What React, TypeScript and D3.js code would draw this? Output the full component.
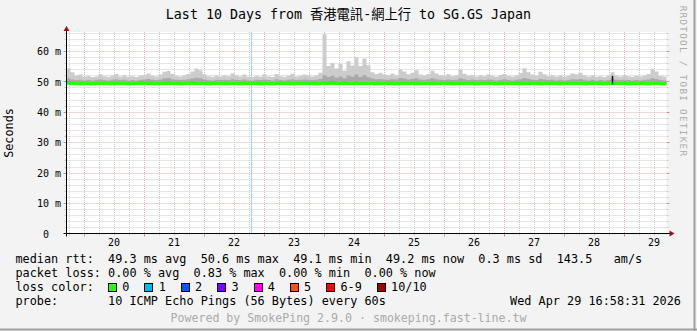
import React from 'react';
import * as d3 from 'd3';

const TITLE = 'Last 10 Days from 香港電訊-網上行 to SG.GS Japan';
const START = Date.UTC(2026, 3, 19, 16, 58, 31);
const END = Date.UTC(2026, 3, 29, 16, 58, 31);

const yTickValues = [0, 10, 20, 30, 40, 50, 60];
const yTickLabels = ['0  ', '10 m', '20 m', '30 m', '40 m', '50 m', '60 m'];
const dayLabels = ['20', '21', '22', '23', '24', '25', '26', '27', '28', '29'];

// upper edge of the light smoke (ms), one value per 1.6 h
const smokeMax = [
  54.3, 53.0, 51.8, 52.2, 51.5, 51.8, 51.4, 51.6, 52.3, 51.7,
  51.5, 51.9, 52.4, 51.6, 52.0, 51.5, 51.7, 51.4, 51.9, 52.1,
  52.6, 51.8, 51.6, 52.2, 53.1, 53.4, 52.5, 51.8, 51.6, 52.0,
  52.4, 53.2, 54.2, 53.6, 52.3, 51.7, 51.5, 51.9, 51.6, 52.0,
  51.7, 52.6, 52.0, 51.6, 52.2, 51.5, 51.4, 51.8, 51.5, 52.3,
  51.6, 51.4, 52.4, 51.7, 51.5, 51.9, 52.5, 51.6, 51.8, 52.2,
  51.9, 51.6, 52.0, 52.8, 65.5, 55.0, 56.0, 54.2, 55.8, 53.5,
  56.6, 55.2, 57.9, 55.0, 57.5, 55.3, 53.0, 52.4, 52.8, 52.2,
  52.0, 52.6, 52.1, 53.8, 53.2, 52.3, 52.8, 53.6, 52.2, 51.9,
  52.4, 53.5, 52.6, 52.0, 51.8, 52.3, 51.7, 52.0, 53.9, 52.5,
  51.8, 52.1, 51.6, 52.0, 51.7, 52.2, 51.9, 51.5, 52.1, 52.4,
  51.8, 51.6, 52.0, 52.7, 54.3, 53.0, 52.2, 51.8, 53.1, 52.3,
  51.7, 52.0, 51.6, 51.9, 51.5, 51.8, 52.6, 52.3, 52.8, 52.1,
  51.6, 51.9, 51.5, 51.7, 51.4, 51.8, 53.0, 51.9, 51.6, 52.0,
  51.7, 51.5, 51.8, 51.6, 51.9, 52.4, 54.0, 53.2, 51.8, 51.6,
];

// upper edge of the darker smoke (ms)
const smokeMid = [
  50.9, 50.6, 50.4, 50.5, 50.3, 50.4, 50.3, 50.5, 50.6, 50.4,
  50.3, 50.5, 50.7, 50.4, 50.5, 50.3, 50.4, 50.3, 50.5, 50.6,
  50.8, 50.5, 50.4, 50.6, 51.0, 51.1, 50.7, 50.5, 50.4, 50.5,
  50.7, 50.9, 51.2, 51.0, 50.6, 50.4, 50.3, 50.5, 50.4, 50.5,
  50.4, 50.7, 50.5, 50.4, 50.6, 50.3, 50.3, 50.5, 50.4, 50.6,
  50.4, 50.3, 50.7, 50.4, 50.3, 50.5, 50.7, 50.4, 50.5, 50.6,
  50.5, 50.4, 50.5, 50.8, 52.0, 51.4, 51.8, 51.2, 51.6, 51.0,
  51.9, 51.5, 52.2, 51.4, 52.0, 51.3, 50.9, 50.7, 50.8, 50.6,
  50.5, 50.7, 50.6, 51.1, 50.9, 50.6, 50.8, 51.0, 50.6, 50.5,
  50.7, 51.0, 50.7, 50.5, 50.4, 50.6, 50.4, 50.5, 51.0, 50.7,
  50.4, 50.6, 50.4, 50.5, 50.4, 50.6, 50.5, 50.3, 50.5, 50.7,
  50.4, 50.3, 50.5, 50.7, 51.1, 50.8, 50.5, 50.4, 50.8, 50.6,
  50.4, 50.5, 50.3, 50.5, 50.3, 50.4, 50.7, 50.6, 50.8, 50.5,
  50.3, 50.5, 50.3, 50.4, 50.3, 50.4, 50.9, 50.5, 50.4, 50.5,
  50.4, 50.3, 50.4, 50.3, 50.5, 50.6, 51.0, 50.8, 50.4, 50.3,
];

// median rtt (ms)
const median = [
  49.4, 49.3, 49.3, 49.2, 49.3, 49.3, 49.2, 49.3, 49.3, 49.3,
  49.3, 49.2, 49.3, 49.3, 49.3, 49.2, 49.3, 49.3, 49.4, 49.3,
  49.3, 49.3, 49.2, 49.3, 49.3, 49.4, 49.3, 49.3, 49.2, 49.3,
  49.3, 49.4, 49.3, 49.3, 49.3, 49.2, 49.3, 49.3, 49.3, 49.2,
  49.3, 49.3, 49.3, 49.2, 49.3, 49.3, 49.3, 49.3, 49.2, 49.3,
  49.3, 49.2, 49.3, 49.3, 49.3, 49.3, 49.2, 49.3, 49.3, 49.3,
  49.3, 49.3, 49.2, 49.3, 49.4, 49.3, 49.4, 49.3, 49.3, 49.4,
  49.3, 49.3, 49.4, 49.3, 49.3, 49.3, 49.3, 49.2, 49.3, 49.3,
  49.3, 49.3, 49.2, 49.3, 49.3, 49.3, 49.3, 49.2, 49.3, 49.3,
  49.3, 49.2, 49.3, 49.3, 49.3, 49.3, 49.2, 49.3, 49.3, 49.3,
  49.3, 49.3, 49.2, 49.3, 49.3, 49.3, 49.3, 49.2, 49.3, 49.3,
  49.3, 49.3, 49.3, 49.2, 49.3, 49.3, 49.3, 49.3, 49.2, 49.3,
  49.3, 49.3, 49.3, 49.2, 49.3, 49.3, 49.3, 49.3, 49.3, 49.2,
  49.3, 49.3, 49.3, 49.3, 49.2, 49.3, 49.3, 49.3, 49.3, 49.3,
  49.2, 49.3, 49.3, 49.3, 49.3, 49.2, 49.3, 49.3, 49.3, 49.2,
];

const markerTime = Date.UTC(2026, 3, 22, 19, 5);
const darkSpikeTime = Date.UTC(2026, 3, 28, 19, 10);
const darkSpikeRange = [49.0, 51.8];

const legendRtt = 'median rtt:  49.3 ms avg  50.6 ms max  49.1 ms min  49.2 ms now  0.3 ms sd  143.5   am/s';
const legendLoss = 'packet loss: 0.00 % avg  0.83 % max  0.00 % min  0.00 % now';
const lossTitle = 'loss color:';
const lossLabels = ['0', '1', '2', '3', '4', '5', '6-9', '10/10'];
const lossColors = ['#26ff00', '#00b8ff', '#0059ff', '#7e00ff', '#ff00ff', '#ff5500', '#ff0000', '#a10000'];
const probeText = 'probe:       10 ICMP Echo Pings (56 Bytes) every 60s';
const dateText = 'Wed Apr 29 16:58:31 2026';
const poweredText = 'Powered by SmokePing 2.9.0 · smokeping.fast-line.tw';
const watermark = 'RRDTOOL / TOBI OETIKER';
const yAxisTitle = 'Seconds';

const FONT = "'DejaVu Sans Mono', 'Noto Sans CJK TC', monospace";
const CW = 7.12;

export default function App() {
  const W = 697, H = 331;
  const L = 66.5, R = 666.5, T = 32, B = 233.5;
  const x = d3.scaleUtc().domain([START, END]).range([L, R]);
  const y = d3.scaleLinear().domain([0, 66.2]).range([B, T]);
  const n = smokeMax.length;
  const step = (END - START) / n;
  const idx = d3.range(n + 1);
  const at = (arr: number[], i: number) => arr[Math.min(i, n - 1)];
  const tx = (i: number) => x(START + i * step);

  const lightArea = d3.area<number>().x(tx).y0(i => y(at(median, i) - 0.3)).y1(i => y(at(smokeMax, i))).curve(d3.curveStepAfter);
  const midArea = d3.area<number>().x(tx).y0(i => y(at(median, i) - 0.2)).y1(i => y(at(smokeMid, i))).curve(d3.curveStepAfter);
  const darkArea = d3.area<number>().x(tx).y0(i => y(at(median, i))).y1(i => y(at(median, i) + 0.45)).curve(d3.curveStepAfter);
  const medLine = d3.line<number>().x(tx).y(i => y(at(median, i))).curve(d3.curveStepAfter);

  const crisp = (v: number) => Math.round(v) + 0.5;
  const minorY = d3.range(2, 67, 2).filter(v => v % 10 !== 0);
  const hours = d3.utcHour.every(6)!.range(new Date(START), new Date(END));
  const minorX = hours.filter(d => d.getUTCHours() !== 0);
  const majorX = hours.filter(d => d.getUTCHours() === 0);

  const lossStart = 15.5 + 13 * CW;
  let cur = lossStart;
  const lossItems = lossLabels.map((lab, k) => {
    const item = { x: cur, lab, color: lossColors[k] };
    cur += 15 + lab.length * CW + 2 * CW;
    return item;
  });

  return (
    <svg width={W} height={H} style={{ position: 'absolute', left: 0, top: 0, fontFamily: FONT }} xmlSpace="preserve">
      <rect x={0} y={0} width={W} height={H} fill="#f3f3f3" />
      <line x1={0} y1={329.5} x2={W} y2={329.5} stroke="#a0a0a0" strokeWidth={2} />
      <line x1={694.5} y1={0} x2={694.5} y2={H} stroke="#a0a0a0" strokeWidth={2} />
      <rect x={L} y={T} width={R - L} height={B - T} fill="#ffffff" />

      {minorY.map(v => (
        <g key={'my' + v}>
          <line x1={L} x2={R} y1={crisp(y(v))} y2={crisp(y(v))} stroke="#cdcdcd" strokeDasharray="1,1" />
          <line x1={L - 2} x2={L} y1={crisp(y(v))} y2={crisp(y(v))} stroke="#c8c8c8" />
          <line x1={R} x2={R + 2} y1={crisp(y(v))} y2={crisp(y(v))} stroke="#c8c8c8" />
        </g>
      ))}
      {minorX.map(d => (
        <g key={'mx' + +d}>
          <line x1={crisp(x(d) - 0.5)} x2={crisp(x(d) - 0.5)} y1={T} y2={B} stroke="#cdcdcd" strokeDasharray="1,1" />
          <line x1={crisp(x(d) - 0.5)} x2={crisp(x(d) - 0.5)} y1={B} y2={B + 2} stroke="#c8c8c8" />
        </g>
      ))}
      {yTickValues.filter(v => v > 0).map(v => (
        <g key={'My' + v}>
          <line x1={L} x2={R} y1={crisp(y(v))} y2={crisp(y(v))} stroke="#e8b2b2" strokeDasharray="1,1" />
          <line x1={L - 3} x2={L} y1={crisp(y(v))} y2={crisp(y(v))} stroke="#d08a8a" />
          <line x1={R} x2={R + 3} y1={crisp(y(v))} y2={crisp(y(v))} stroke="#d08a8a" />
        </g>
      ))}
      {majorX.map(d => (
        <g key={'Mx' + +d}>
          <line x1={crisp(x(d) - 0.5)} x2={crisp(x(d) - 0.5)} y1={T} y2={B} stroke="#e8b2b2" strokeDasharray="1,1" />
          <line x1={crisp(x(d) - 0.5)} x2={crisp(x(d) - 0.5)} y1={B} y2={B + 3} stroke="#d08a8a" />
        </g>
      ))}

      <line x1={crisp(x(markerTime) - 0.5)} x2={crisp(x(markerTime) - 0.5)} y1={T} y2={B} stroke="#9fd6ef" strokeWidth={1} />

      <path d={lightArea(idx) || ''} fill="#cccccc" />
      <path d={midArea(idx) || ''} fill="#a9a9a9" />
      <path d={darkArea(idx) || ''} fill="#8c8c8c" />
      <path d={medLine(idx) || ''} fill="none" stroke="#26ff00" strokeWidth={3} />
      <line x1={crisp(x(darkSpikeTime))} x2={crisp(x(darkSpikeTime))} y1={y(darkSpikeRange[0])} y2={y(darkSpikeRange[1])} stroke="#111" strokeWidth={1.5} />

      {/* axes */}
      <line x1={L} x2={L} y1={B + 3} y2={T - 3} stroke="#000" />
      <line x1={L - 3} x2={R + 5} y1={B} y2={B} stroke="#000" />
      <path d={`M${L},${T - 6} L${L - 3},${T - 1} L${L + 3},${T - 1} Z`} fill="#a01010" />
      <path d={`M${R + 8},${B} L${R + 3},${B - 3} L${R + 3},${B + 3} Z`} fill="#a01010" />

      {yTickValues.map((v, k) => (
        <text key={'yl' + v} x={61} y={y(v) + 4.3} fontSize={10} textAnchor="end" fill="#000" style={{ whiteSpace: 'pre' }}>{yTickLabels[k]}</text>
      ))}
      {dayLabels.map(lab => (
        <text key={'dl' + lab} x={x(Date.UTC(2026, 3, +lab, 12))} y={246} fontSize={10} textAnchor="middle" fill="#000">{lab}</text>
      ))}

      <text x={348.5} y={19} fontSize={13.3} textAnchor="middle" fill="#000">{TITLE}</text>
      <text transform="translate(13,133) rotate(-90)" fontSize={11.8} textAnchor="middle" fill="#000">{yAxisTitle}</text>
      <text transform="translate(679.5,81.5) rotate(90)" fontSize={9.3} letterSpacing={1.3} textAnchor="middle" fill="#ababab">{watermark}</text>

      <text x={15.5} y={263} fontSize={11.83} fill="#000" style={{ whiteSpace: 'pre' }}>{legendRtt}</text>
      <text x={15.5} y={277} fontSize={11.83} fill="#000" style={{ whiteSpace: 'pre' }}>{legendLoss}</text>
      <text x={15.5} y={291} fontSize={11.83} fill="#000" style={{ whiteSpace: 'pre' }}>{lossTitle}</text>
      {lossItems.map(it => (
        <g key={'li' + it.lab}>
          <rect x={Math.round(it.x) + 0.5} y={283.5} width={8} height={8} fill={it.color} stroke="#000" />
          <text x={it.x + 2 * CW} y={291} fontSize={11.83} fill="#000">{it.lab}</text>
        </g>
      ))}
      <text x={15.5} y={305} fontSize={11.83} fill="#000" style={{ whiteSpace: 'pre' }}>{probeText}</text>
      <text x={681} y={305} fontSize={11.83} textAnchor="end" fill="#000">{dateText}</text>
      <text x={348.5} y={321.5} fontSize={11.6} textAnchor="middle" fill="#aaaaaa">{poweredText}</text>
    </svg>
  );
}
